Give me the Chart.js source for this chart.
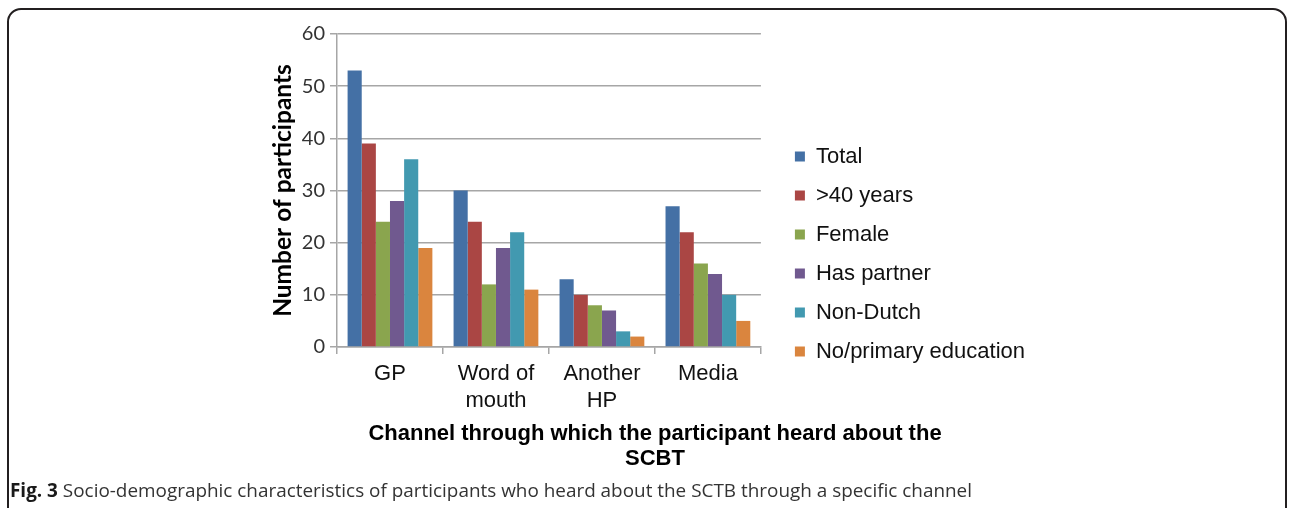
<!DOCTYPE html>
<html>
<head>
<meta charset="utf-8">
<title>Fig. 3</title>
<script src="https://cdn.jsdelivr.net/npm/chart.js@4/dist/chart.umd.min.js"></script>
<style>
  html, body { margin: 0; padding: 0; background: #fff; width: 1290px; height: 508px; overflow: hidden; }
  #frame { position: absolute; left: 7px; top: 8px; width: 1280px; height: 560px; border: 2px solid #231f20; border-radius: 14px; box-sizing: border-box; }
  #chart { position: absolute; left: 0; top: 0; }
  #xtitle { position: absolute; left: 345px; width: 620px; top: 420px; text-align: center;
            font: bold 22px "Liberation Sans", Arial, sans-serif; line-height: 25px; color: #000; }
  #caption { position: absolute; left: 10px; top: 479px; font: 19px "Open Sans", sans-serif; line-height: 22px;
             color: #333; white-space: nowrap; transform-origin: 0 0; }
  #caption b { color: #1a1a1a; }
</style>
</head>
<body>
<div id="frame"></div>
<canvas id="chart" width="1290" height="508"></canvas>
<div id="xtitle">Channel through which the participant heard about the<br>SCBT</div>
<div id="caption"><b>Fig. 3</b> Socio-demographic characteristics of participants who heard about the SCTB through a specific channel</div>
<script>
// Channels through which participants heard about the programme
const categories = [['GP'], ['Word of', 'mouth'], ['Another', 'HP'], ['Media']];

// Number of participants per channel, by subgroup
const total     = [53, 30, 13, 27];
const over40    = [39, 24, 10, 22];
const female    = [24, 12,  8, 16];
const partner   = [28, 19,  7, 14];
const nonDutch  = [36, 22,  3, 10];
const noPrimary = [19, 11,  2,  5];

const seriesNames = ['Total', '>40 years', 'Female', 'Has partner', 'Non-Dutch', 'No/primary education'];
const seriesColors = ['#4470a5', '#aa4644', '#8aa54e', '#70598f', '#4299b0', '#da853e'];
const seriesValues = [total, over40, female, partner, nonDutch, noPrimary];

const yTicks = [0, 10, 20, 30, 40, 50, 60];

const datasets = seriesNames.map((name, i) => ({
  label: name,
  data: seriesValues[i],
  backgroundColor: seriesColors[i],
  borderWidth: 0,
  categoryPercentage: 0.8,
  barPercentage: 1.0
}));

const gridGrey = '#a6a6a6';

new Chart(document.getElementById('chart'), {
  type: 'bar',
  data: { labels: categories, datasets },
  options: {
    responsive: false,
    animation: false,
    devicePixelRatio: 1,
    layout: { padding: { left: 264, top: 0, right: 255, bottom: 0 } },
    scales: {
      x: {
        grid: { display: true, drawOnChartArea: false, offset: true, tickLength: 7, color: gridGrey, lineWidth: 1.5 },
        border: { color: gridGrey, width: 1.5 },
        ticks: { font: { family: 'Liberation Sans', size: 22 }, color: '#111', padding: 7, maxRotation: 0, autoSkip: false },
        afterFit: s => { s.height = 161; }
      },
      topSpacer: {
        type: 'linear', position: 'top', display: true,
        grid: { display: false }, border: { display: false }, ticks: { display: false },
        afterFit: s => { s.height = 34; }
      },
      y: {
        min: 0, max: 60,
        afterBuildTicks: s => { s.ticks = yTicks.map(v => ({ value: v })); },
        grid: { color: gridGrey, lineWidth: 1.5, tickLength: 7, tickColor: gridGrey },
        border: { color: gridGrey, width: 1.5 },
        ticks: { font: { family: 'Lato', size: 20 }, color: '#333', padding: 5 },
        title: { display: true, text: 'Number of participants', font: { family: 'Lato', size: 24.5, weight: 'bold' }, color: '#000', padding: { top: 4, bottom: 4 } },
        afterFit: s => { s.width = 73; }
      },
      rightSpacer: {
        type: 'linear', position: 'right', display: true,
        grid: { display: false }, border: { display: false }, ticks: { display: false },
        afterFit: s => { s.width = 17; }
      }
    },
    plugins: {
      tooltip: { enabled: false },
      legend: {
        position: 'right',
        align: 'center',
        maxWidth: 400,
        labels: {
          boxWidth: 10, boxHeight: 10, padding: 17,
          font: { family: 'Liberation Sans', size: 22 }, color: '#111'
        }
      }
    }
  }
});

// Fit the caption line to its column width
document.fonts.ready.then(() => {
  const cap = document.getElementById('caption');
  const w = cap.getBoundingClientRect().width;
  cap.style.transform = 'scaleX(' + (962 / w) + ')';
});
</script>
</body>
</html>
